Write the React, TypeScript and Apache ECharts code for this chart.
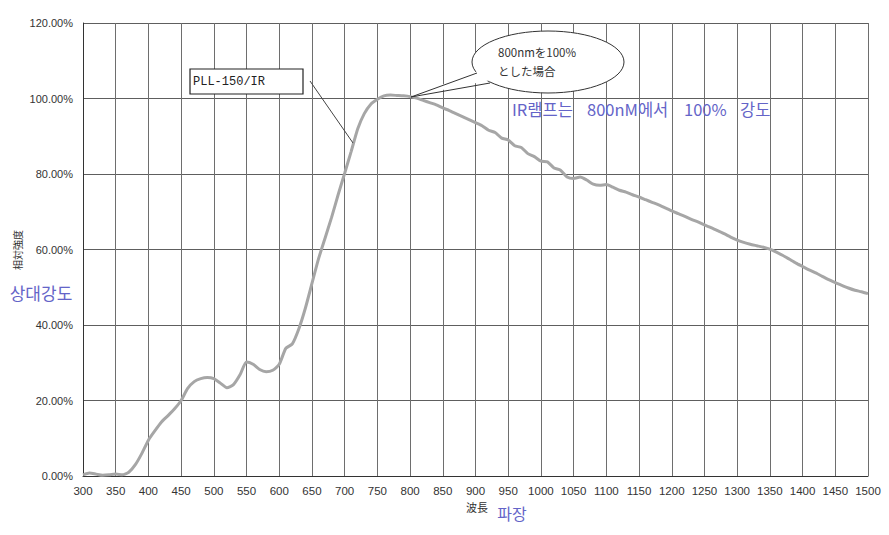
import React, { useEffect, useRef } from "react";
import * as echarts from "echarts";

const wavelengths: number[] = [
  300, 310, 320, 330, 340, 350, 360, 370, 380, 390,
  400, 410, 420, 430, 440, 450, 460, 470, 480, 490,
  500, 510, 520, 530, 540, 550, 560, 570, 580, 590,
  600, 610, 620, 630, 640, 650, 660, 670, 680, 690,
  700, 710, 720, 730, 740, 750, 760, 770, 780, 790,
  800, 810, 820, 830, 840, 850, 860, 870, 880, 890,
  900, 910, 920, 930, 940, 950, 960, 970, 980, 990,
  1000, 1010, 1020, 1030, 1040, 1050, 1060, 1070, 1080, 1090,
  1100, 1110, 1120, 1130, 1140, 1150, 1160, 1170, 1180, 1190,
  1200, 1210, 1220, 1230, 1240, 1250, 1260, 1270, 1280, 1290,
  1300, 1310, 1320, 1330, 1340, 1350, 1360, 1370, 1380, 1390,
  1400, 1410, 1420, 1430, 1440, 1450, 1460, 1470, 1480, 1490,
  1500,
];

const intensity: number[] = [
  0.3, 0.8, 0.5, 0.2, 0.3, 0.5, 0.3, 1.0, 3.0, 6.0,
  9.5, 12.0, 14.3, 16.0, 17.8, 20.0, 23.2, 25.0, 25.8, 26.1,
  25.8, 24.6, 23.4, 24.2, 26.8, 30.2, 29.6, 28.2, 27.6, 28.0,
  29.6, 33.8, 35.0, 39.0, 44.5, 51.0, 57.5, 63.0, 68.5, 74.5,
  80.2, 86.0, 92.0, 96.0, 98.5, 99.8, 100.7, 100.9, 100.8, 100.7,
  100.5, 100.1, 99.5, 98.9, 98.3, 97.5, 96.8, 96.0, 95.2, 94.4,
  93.6, 92.8, 91.6, 91.0, 89.5, 89.0, 87.5, 87.0, 85.4, 84.6,
  83.4, 83.2, 81.6, 81.0, 79.2, 78.8, 79.2, 78.4, 77.3, 77.0,
  77.2, 76.5, 75.7, 75.2, 74.5, 73.9, 73.2, 72.5, 71.8, 71.0,
  70.2, 69.5, 68.8, 68.0, 67.3, 66.5, 65.8, 65.0, 64.2, 63.3,
  62.5, 61.9, 61.4, 61.0, 60.6, 60.1, 59.3, 58.4, 57.4, 56.4,
  55.5, 54.6, 53.8, 52.9, 52.0, 51.2, 50.5, 49.8, 49.2, 48.8,
  48.3,
];

const yTicks: number[] = [0, 20, 40, 60, 80, 100, 120];

const App: React.FC = () => {
  const ref = useRef<HTMLDivElement>(null);

  useEffect(() => {
    if (!ref.current) return;
    const chart = echarts.init(ref.current, undefined, { renderer: "svg" });
    const data = wavelengths.map((w, i) => [w, intensity[i]]);
    const labelFont = "'Liberation Sans', Arial, sans-serif";
    const cjk = "'Noto Sans CJK JP', 'Noto Sans CJK KR', sans-serif";
    const kr = "'Noto Sans CJK KR', sans-serif";
    const blue = "#6464c8";

    const krText = (text: string, x: number) => ({
      type: "text",
      x,
      y: 109,
      style: {
        text,
        font: `16.5px ${kr}`,
        fill: blue,
        verticalAlign: "middle",
      },
      z: 13,
    });

    chart.setOption({
      animation: false,
      backgroundColor: "#ffffff",
      grid: { left: 83, right: 21, top: 23, bottom: 59, containLabel: false },
      xAxis: {
        type: "value",
        min: 300,
        max: 1500,
        interval: 50,
        axisLine: { show: true, lineStyle: { color: "#333", width: 1 } },
        axisTick: { show: false },
        axisLabel: {
          color: "#333",
          fontSize: 11.5,
          fontFamily: labelFont,
          margin: 9,
          formatter: (v: number) => String(v),
        },
        splitLine: { show: true, lineStyle: { color: "#6e6e6e", width: 1 } },
      },
      yAxis: {
        type: "value",
        min: yTicks[0],
        max: yTicks[yTicks.length - 1],
        interval: 20,
        axisLine: { show: true, lineStyle: { color: "#333", width: 1 } },
        axisTick: { show: false },
        axisLabel: {
          color: "#333",
          fontSize: 11,
          fontFamily: labelFont,
          margin: 10,
          formatter: (v: number) => v.toFixed(2) + "%",
        },
        splitLine: { show: true, lineStyle: { color: "#5e5e5e", width: 1 } },
      },
      series: [
        {
          type: "line",
          data,
          smooth: 0.2,
          showSymbol: false,
          lineStyle: { color: "#a6a6a6", width: 3 },
          z: 3,
        },
      ],
      graphic: [
        {
          type: "text",
          x: 17,
          y: 250,
          rotation: Math.PI / 2,
          style: {
            text: "相対強度",
            font: `10px ${cjk}`,
            fill: "#333",
            align: "center",
            verticalAlign: "middle",
          },
        },
        {
          type: "text",
          x: 41,
          y: 292,
          style: {
            text: "상대강도",
            font: `17px ${kr}`,
            fill: blue,
            align: "center",
            verticalAlign: "middle",
          },
        },
        {
          type: "text",
          x: 477,
          y: 507,
          style: {
            text: "波長",
            font: `11px ${cjk}`,
            fill: "#333",
            align: "center",
            verticalAlign: "middle",
          },
        },
        {
          type: "text",
          x: 512,
          y: 513,
          style: {
            text: "파장",
            font: `16px ${kr}`,
            fill: blue,
            align: "center",
            verticalAlign: "middle",
          },
        },
        {
          type: "rect",
          shape: { x: 190, y: 69, width: 113, height: 25 },
          style: { fill: "#fff", stroke: "#222", lineWidth: 1.2 },
          z: 10,
        },
        {
          type: "text",
          x: 193,
          y: 81.5,
          style: {
            text: "PLL-150/IR",
            font: `12px 'Liberation Mono', 'DejaVu Sans Mono', monospace`,
            fill: "#222",
            verticalAlign: "middle",
          },
          z: 11,
        },
        {
          type: "line",
          shape: { x1: 310, y1: 81, x2: 353, y2: 143 },
          style: { stroke: "#444", lineWidth: 1 },
          z: 10,
        },
        {
          type: "ellipse",
          shape: { cx: 548, cy: 62, rx: 76, ry: 31 },
          style: { fill: "#fff", stroke: "#333", lineWidth: 1 },
          z: 10,
        },
        {
          type: "polygon",
          shape: { points: [[478, 71], [413, 96], [491, 80]] },
          style: { fill: "#fff", stroke: "none" },
          z: 11,
        },
        {
          type: "polyline",
          shape: { points: [[477, 73], [411, 97], [490, 83]] },
          style: { stroke: "#333", lineWidth: 1, fill: "none" },
          z: 12,
        },
        {
          type: "text",
          x: 498,
          y: 52,
          style: {
            text: "800nmを100%",
            font: `11.5px ${cjk}`,
            fill: "#333",
            verticalAlign: "middle",
          },
          z: 13,
        },
        {
          type: "text",
          x: 498,
          y: 71,
          style: {
            text: "とした場合",
            font: `11.5px ${cjk}`,
            fill: "#333",
            verticalAlign: "middle",
          },
          z: 13,
        },
        krText("IR램프는", 512),
        krText("800nM에서", 587),
        krText("100%", 684),
        krText("강도", 740),
      ],
    });

    return () => chart.dispose();
  }, []);

  return (
    <div
      ref={ref}
      style={{ position: "fixed", left: 0, top: 0, width: 889, height: 535, background: "#fff" }}
    />
  );
};

export default App;
